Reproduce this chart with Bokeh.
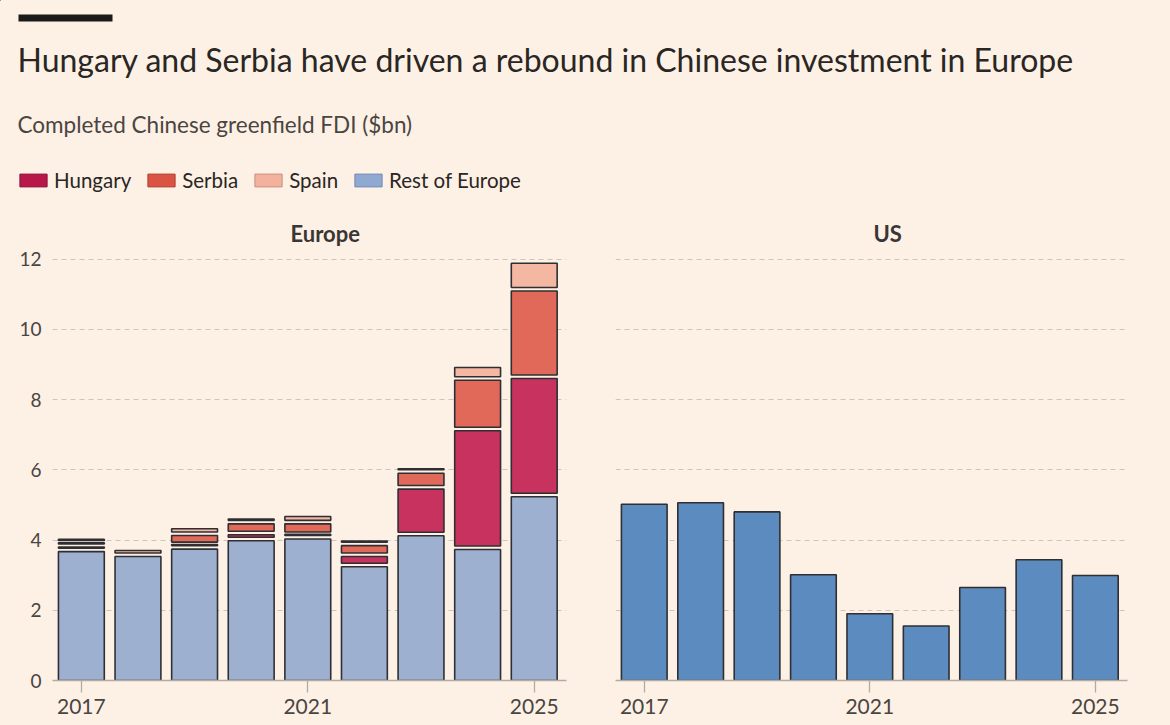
from bokeh.plotting import figure
from bokeh.models import Range1d, FixedTicker, Legend, LegendItem, Label, ColumnDataSource
from bokeh.layouts import column, row
from bokeh.embed import file_html
from bokeh.resources import INLINE

# ---------------- data ----------------
years = [2017, 2018, 2019, 2020, 2021, 2022, 2023, 2024, 2025]
rest_of_europe = [3.67, 3.53, 3.74, 3.98, 4.03, 3.24, 4.12, 3.73, 5.23]
hungary = [0.12, 0.00, 0.10, 0.17, 0.10, 0.29, 1.33, 3.38, 3.37]
serbia = [0.10, 0.00, 0.29, 0.31, 0.33, 0.31, 0.45, 1.44, 2.49]
spain = [0.10, 0.17, 0.19, 0.14, 0.21, 0.10, 0.12, 0.36, 0.79]
us = [5.02, 5.06, 4.80, 3.01, 1.90, 1.55, 2.65, 3.44, 2.99]
y_ticks = [0, 2, 4, 6, 8, 10, 12]
x_ticks = [2017, 2021, 2025]
series_names = ["Hungary", "Serbia", "Spain", "Rest of Europe"]

# ---------------- style ----------------
BG = "#fdf1e6"
FONT = "Lato"
OUT = "#2f2f33"
C_HUN = "#c8325f"
C_SER = "#e0695a"
C_SPA = "#f3b7a2"
C_REST = "#9db0cf"
C_US = "#5c8cbf"
GAP = 0.1
BAR_W = 0.81
XR = (2016.49, 2025.57)
YR = (0, 12.3)


def base_panel(width, left, right, title, offset):
    p = figure(width=width, height=510, x_range=Range1d(*XR), y_range=Range1d(*YR),
               output_backend="svg", toolbar_location=None,
               min_border_left=left, min_border_right=right,
               min_border_top=33, min_border_bottom=45,
               background_fill_color=BG, border_fill_color=BG,
               outline_line_color=None)
    p.title.text = title
    p.title.align = "left"
    p.title.offset = offset
    p.title.text_font = FONT
    p.title.text_font_size = "22px"
    p.title.text_font_style = "bold"
    p.title.text_color = "#3a3633"
    p.title.standoff = 3
    p.xgrid.grid_line_color = None
    p.ygrid.ticker = FixedTicker(ticks=y_ticks[1:])
    p.ygrid.grid_line_color = "#cdc5bd"
    p.ygrid.grid_line_dash = "5 4"
    p.ygrid.grid_line_width = 1
    p.xaxis.ticker = FixedTicker(ticks=x_ticks)
    p.xaxis.axis_line_color = "#b1aba5"
    p.xaxis.axis_line_width = 1.3
    p.xaxis.major_tick_line_color = "#b1aba5"
    p.xaxis.major_tick_line_width = 1.3
    p.xaxis.major_tick_out = 12
    p.xaxis.major_tick_in = 0
    p.xaxis.minor_tick_line_color = None
    p.xaxis.major_label_text_font = FONT
    p.xaxis.major_label_text_font_size = "21px"
    p.xaxis.major_label_text_color = "#4a4541"
    p.xaxis.major_label_standoff = 6
    return p


# ---------------- Europe panel ----------------
eu = base_panel(590, 52, 24, "Europe", 238)
eu.yaxis.ticker = FixedTicker(ticks=y_ticks)
eu.yaxis.axis_line_color = None
eu.yaxis.major_tick_line_color = None
eu.yaxis.minor_tick_line_color = None
eu.yaxis.major_label_text_font = FONT
eu.yaxis.major_label_text_font_size = "19px"
eu.yaxis.major_label_text_color = "#4a4541"
eu.yaxis.major_label_standoff = 5

eu.vbar(x=years, bottom=0, top=rest_of_europe, width=BAR_W,
        fill_color=C_REST, line_color=OUT, line_width=1.6)

cum = list(rest_of_europe)
for vals, col in [(hungary, C_HUN), (serbia, C_SER), (spain, C_SPA)]:
    xs, bots, tops = [], [], []
    for i, v in enumerate(vals):
        if v > 0:
            b = cum[i] + GAP
            t = max(cum[i] + v, b + 0.03)
            xs.append(years[i])
            bots.append(b)
            tops.append(t)
        cum[i] += v
    src = ColumnDataSource(dict(x=xs, bottom=bots, top=tops))
    eu.vbar(x="x", bottom="bottom", top="top", width=BAR_W, source=src,
            fill_color=col, line_color=OUT, line_width=1.6)

# ---------------- US panel ----------------
usp = base_panel(580, 25, 43, "US", 258)
usp.yaxis.visible = False
usp.vbar(x=years, bottom=0, top=us, width=BAR_W,
         fill_color=C_US, line_color=OUT, line_width=1.6)

# ---------------- header ----------------
hdr = figure(width=1170, height=215, x_range=Range1d(0, 1170), y_range=Range1d(215, 0),
             output_backend="svg", toolbar_location=None,
             x_axis_type=None, y_axis_type=None, min_border=0,
             background_fill_color=BG, border_fill_color=BG, outline_line_color=None)
hdr.grid.visible = False
hdr.quad(left=[18], right=[112], top=[14], bottom=[21], fill_color="#1a1a1a", line_color=None)
hdr.add_layout(Label(x=17, y=59, text="Hungary and Serbia have driven a rebound in Chinese investment in Europe",
                     text_font=FONT, text_font_size="32px", text_color="#2a2623",
                     text_baseline="alphabetic"))
hdr.add_layout(Label(x=17, y=124, text="Completed Chinese greenfield FDI ($bn)",
                     text_font=FONT, text_font_size="22.5px", text_color="#4a4541",
                     text_baseline="alphabetic"))

leg_cols = [("#b8174a", "#8e1038"), ("#da5443", "#b03d2e"), ("#f2b29d", "#c98e7a"), ("#90a9d3", "#6f87b0")]
items = []
for name, (fc, lc) in zip(series_names, leg_cols):
    r = hdr.vbar(x=[-50], top=[-50], bottom=[-60], width=1, fill_color=fc, line_color=lc, line_width=1)
    items.append(LegendItem(label=name, renderers=[r]))
legend = Legend(items=items, orientation="horizontal", location=(16, 23),
                glyph_width=34, glyph_height=16, label_standoff=4, spacing=13,
                padding=0, margin=0, background_fill_alpha=0, border_line_color=None,
                label_text_font=FONT, label_text_font_size="20.5px", label_text_color="#2a2623")
hdr.add_layout(legend)

layout = column(hdr, row(eu, usp, spacing=0, styles={"background-color": BG}),
                spacing=0, styles={"background-color": BG})
open("out.html", "w").write(file_html(layout, INLINE))
